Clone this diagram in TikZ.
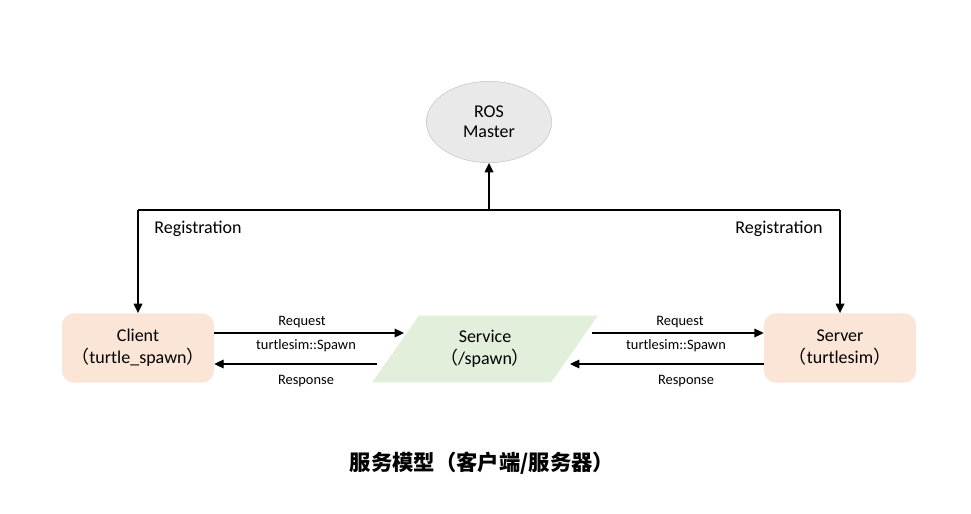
\documentclass[tikz,border=0pt]{standalone}
\usepackage{fontspec}
\setmainfont{Carlito}
\newfontfamily\cjk{Noto Sans CJK SC}
\usetikzlibrary{arrows.meta,shapes.geometric}
\definecolor{peach}{HTML}{FBE5D6}
\definecolor{mint}{HTML}{E2EFDA}
\definecolor{mastergray}{HTML}{E9E9E9}
\begin{document}
\begin{tikzpicture}[x=0.75pt,y=-0.75pt,line cap=butt,line join=miter,
		>={Triangle[length=7pt,width=6.5pt]},font=\fontsize{13.5}{16.5}\selectfont]
		\tikzset{endbox/.style={rounded corners=9pt,fill=peach,draw=none,
				minimum width=114pt,minimum height=52pt,align=center},
			msg/.style={font=\fontsize{10.8}{13}\selectfont},
			flow/.style={->,line width=0.9pt}}
		\useasboundingbox (0,0) rectangle (971,514);
		% nodes
		\node[ellipse,fill=mastergray,draw=gray!45,minimum width=94pt,minimum height=61pt,align=center,
			font=\fontsize{13.5}{15}\selectfont]
			(master) at (489,122) {ROS\\Master};
		\node[endbox] (client) at (138,348) {Client\\{\cjk（}turtle\_spawn{\cjk）}};
		\node[endbox] (server) at (840,348) {Server\\{\cjk（}turtlesim{\cjk）}};
		\node[trapezium,trapezium left angle=53,trapezium right angle=127,trapezium stretches=true,
			fill=mint,minimum width=169.5pt,minimum height=50pt,align=center]
			(service) at (485,349) {Service\\{\cjk（}/spawn{\cjk）}};
		%--------- Registration
		\coordinate (bus) at (489,210);
		\draw[flow] (bus) -- (master);
		\draw[line width=0.9pt] (bus -| client) -- (bus -| server);
		\draw[flow] (bus -| client) -- (client);
		\draw[flow] (bus -| server) -- (server);
		\node (regL) at (198,229) {Registration};
		\node (regR) at (779,229) {Registration};
		%--------- Request / Response
		\coordinate (reqL) at (404,333);
		\coordinate (resL) at (377,364);
		\coordinate (reqR) at (592,333);
		\coordinate (resR) at (570,364);
		\draw[flow] (reqL -| client.east) -- (reqL);
		\draw[flow] (resL) -- (resL -| client.east);
		\draw[flow] (reqR) -- (reqR -| server.west);
		\draw[flow] (resR -| server.west) -- (resR);
		\node[msg] (reqTxtL) at (302,322) {Request};
		\node[msg] (typeL) at (306,346) {turtlesim::Spawn};
		\node[msg] (resTxtL) at (306,381) {Response};
		\node[msg] (reqTxtR) at (680,322) {Request};
		\node[msg] (typeR) at (676,346) {turtlesim::Spawn};
		\node[msg] (resTxtR) at (686,381) {Response};
		% title
		\node[font=\cjk\bfseries\fontsize{16}{20}\selectfont] (title) at (482,463) {服务模型（客户端/服务器）};
	\end{tikzpicture}
\end{document}
